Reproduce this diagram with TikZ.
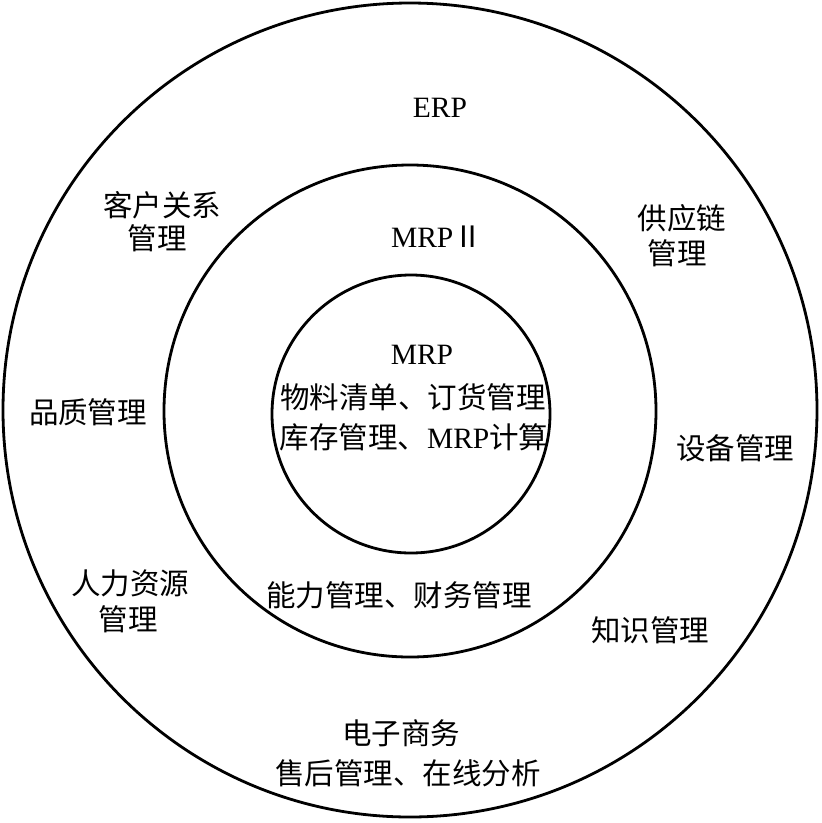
\documentclass[tikz,border=0pt]{standalone}
\usepackage{fontspec}
\setmainfont{Liberation Serif}
\newfontfamily\cjk{Noto Sans CJK SC}
\begin{document}
\begin{tikzpicture}[x=1pt,y=-1pt,
  ring/.style={line width=2.8pt},
  lbl/.style={font=\fontsize{29.5}{31}\selectfont, inner sep=0pt, anchor=center}]
\useasboundingbox (0,0) rectangle (822,823);
\draw[ring] (410,410) circle[radius=407];
\draw[ring] (410,411) circle[radius=246];
\draw[ring] (411,414) circle[radius=139];

\node[lbl] (erp) at (440,108) {ERP};
\node[lbl] (crm1) at (162,205) {\cjk 客户关系};
\node[lbl] (crm2) at (157,238) {\cjk 管理};
\node[lbl] (scm1) at (682,218) {\cjk 供应链};
\node[lbl] (scm2) at (677,253) {\cjk 管理};
\node[lbl] (mrp2) at (437,237) {MRP{\cjk Ⅱ}};
\node[lbl] (mrp) at (422,355) {MRP};
\node[lbl] (bom) at (413,397) {\cjk 物料清单、订货管理};
\node[lbl] (inv) at (414,437) {{\cjk 库存管理、}MRP{\cjk 计算}};
\node[lbl] (qm) at (88,412) {\cjk 品质管理};
\node[lbl] (em) at (735,448) {\cjk 设备管理};
\node[lbl] (hr1) at (130,583) {\cjk 人力资源};
\node[lbl] (hr2) at (128,619) {\cjk 管理};
\node[lbl] (cap) at (399,595) {\cjk 能力管理、财务管理};
\node[lbl] (km) at (650,630) {\cjk 知识管理};
\node[lbl] (ec) at (401,733) {\cjk 电子商务};
\node[lbl] (as) at (408,773) {\cjk 售后管理、在线分析};
\end{tikzpicture}
\end{document}
